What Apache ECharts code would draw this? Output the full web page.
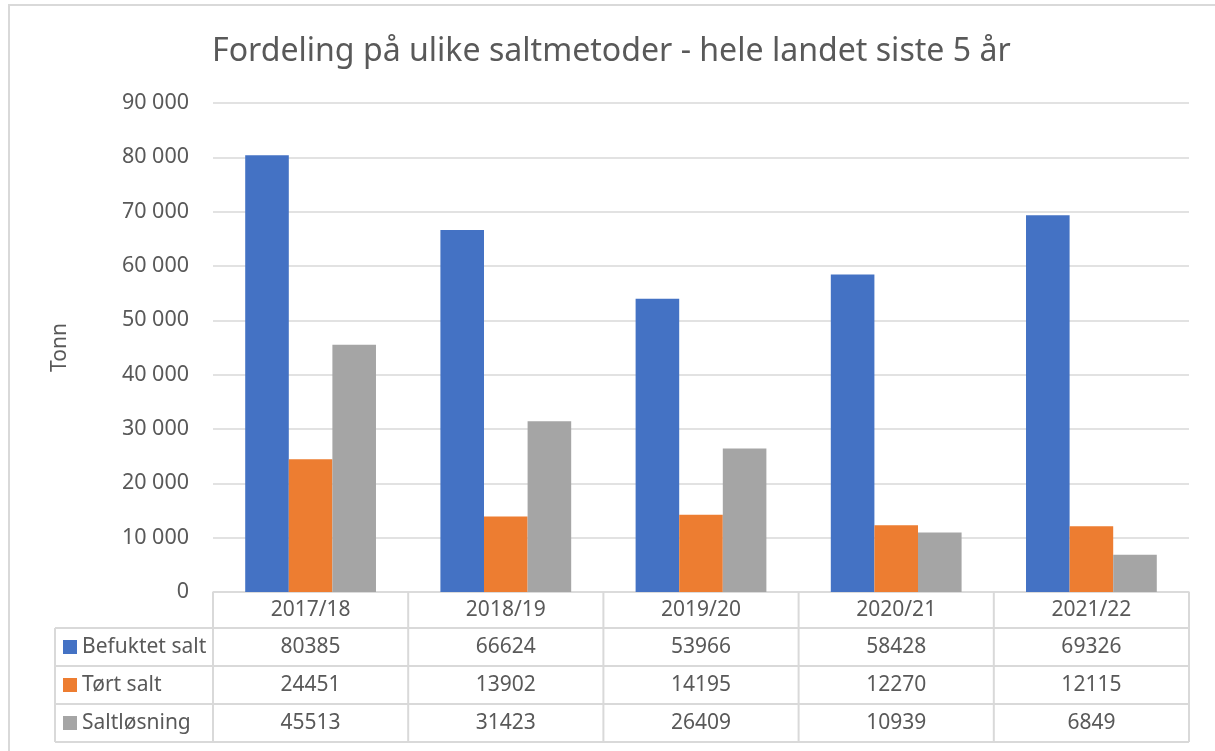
<!DOCTYPE html>
<html>
<head>
<meta charset="utf-8">
<script src="https://cdn.jsdelivr.net/npm/echarts@6.0.0/dist/echarts.min.js"></script>
<style>
  html, body { margin: 0; padding: 0; background: #fff; }
  #chart { width: 1215px; height: 751px; }
</style>
</head>
<body>
<div id="chart"></div>
<script>
const seasons = ["2017/18", "2018/19", "2019/20", "2020/21", "2021/22"];
const befuktetSalt = [80385, 66624, 53966, 58428, 69326];
const tortSalt = [24451, 13902, 14195, 12270, 12115];
const saltlosning = [45513, 31423, 26409, 10939, 6849];
const seriesNames = ["Befuktet salt", "Tørt salt", "Saltløsning"];
const seriesColors = ["#4472c4", "#ed7d31", "#a5a5a5"];

const font = "'Noto Sans', sans-serif";
const textColor = "#595959";
const lineColor = "#d9d9d9";

const chart = echarts.init(document.getElementById("chart"), undefined, { renderer: "canvas" });

const seriesData = [befuktetSalt, tortSalt, saltlosning];

chart.setOption({
  animation: false,
  title: {
    text: "Fordeling på ulike saltmetoder - hele landet siste 5 år",
    left: 207,
    top: 31,
    textStyle: { fontFamily: font, fontSize: 32.1, fontWeight: "normal", color: textColor },
  },
  grid: { left: 213, right: 26, top: 103, bottom: 159 },
  xAxis: {
    type: "category",
    data: seasons,
    axisTick: { show: false },
    axisLine: { lineStyle: { color: lineColor, width: 1.5 } },
    axisLabel: { color: textColor, fontFamily: font, fontSize: 21, margin: 8 },
  },
  yAxis: {
    type: "value",
    min: 0,
    max: 90000,
    interval: 10000,
    name: "Tonn",
    nameLocation: "middle",
    nameGap: 142,
    nameRotate: 90,
    nameTextStyle: { color: textColor, fontFamily: font, fontSize: 21 },
    axisLine: { show: false },
    axisTick: { show: false },
    axisLabel: {
      color: textColor, fontFamily: font, fontSize: 21.5, margin: 24,
      formatter: (v) => v === 0 ? "0" : String(v).replace(/\B(?=(\d{3})+(?!\d))/g, " "),
    },
    splitLine: { lineStyle: { color: lineColor, width: 1.5 } },
  },
  series: seriesNames.map((name, i) => ({
    name,
    type: "bar",
    data: seriesData[i],
    barGap: "0%",
    barCategoryGap: "33%",
    itemStyle: { color: seriesColors[i] },
  })),
});

// data table under the plot, placed from the category axis scale
const rowEdges = [592, 628, 666, 704, 742];
const tableLeft = 55;
const x0 = chart.convertToPixel({ xAxisIndex: 0 }, seasons[0]);
const x1 = chart.convertToPixel({ xAxisIndex: 0 }, seasons[1]);
const band = x1 - x0;
const plotLeft = x0 - band / 2;
const plotRight = plotLeft + band * seasons.length;
const line = (xa, ya, xb, yb) => ({
  type: "line", silent: true,
  shape: { x1: xa, y1: ya, x2: xb, y2: yb },
  style: { stroke: lineColor, lineWidth: 2 },
});

const graphic = [];
// outer chart border
graphic.push({
  type: "rect", silent: true,
  shape: { x: 9, y: 5, width: 1230, height: 800 },
  style: { fill: null, stroke: lineColor, lineWidth: 2 },
});
// horizontal rules
graphic.push(line(tableLeft, rowEdges[1], plotRight, rowEdges[1]));
graphic.push(line(tableLeft, rowEdges[2], plotRight, rowEdges[2]));
graphic.push(line(tableLeft, rowEdges[3], plotRight, rowEdges[3]));
graphic.push(line(tableLeft, rowEdges[4], plotRight, rowEdges[4]));
// vertical rules
graphic.push(line(tableLeft, rowEdges[1], tableLeft, rowEdges[4]));
for (let k = 0; k <= seasons.length; k++) {
  const x = plotLeft + band * k;
  graphic.push(line(x, rowEdges[0], x, rowEdges[4]));
}
// row labels with legend keys
seriesNames.forEach((name, r) => {
  const cy = (rowEdges[r + 1] + rowEdges[r + 2]) / 2;
  graphic.push({
    type: "rect", silent: true,
    shape: { x: 63, y: cy - 7, width: 14, height: 14 },
    style: { fill: seriesColors[r] },
  });
  graphic.push({
    type: "text", silent: true,
    x: 82, y: cy,
    style: { text: name, fill: textColor, font: `21px ${font}`, verticalAlign: "middle", align: "left" },
  });
  seasons.forEach((s, c) => {
    graphic.push({
      type: "text", silent: true,
      x: chart.convertToPixel({ xAxisIndex: 0 }, s), y: cy,
      style: { text: String(seriesData[r][c]), fill: textColor, font: `21px ${font}`, verticalAlign: "middle", align: "center" },
    });
  });
});

chart.setOption({ graphic });
</script>
</body>
</html>
